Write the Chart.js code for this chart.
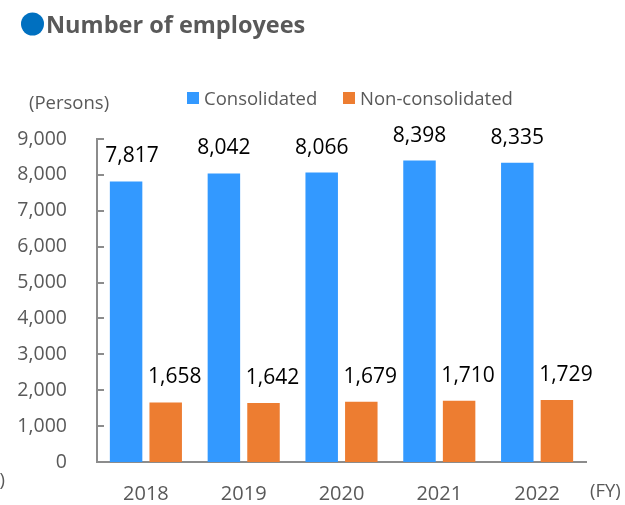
<!DOCTYPE html>
<html>
<head>
<meta charset="utf-8">
<script src="https://cdn.jsdelivr.net/npm/chart.js@4.4.1/dist/chart.umd.min.js"></script>
<style>
  html, body { margin: 0; padding: 0; background: #ffffff; }
  #wrap { position: relative; width: 625px; height: 505px; }
  canvas { display: block; }
</style>
</head>
<body>
<div id="wrap"><canvas id="c" width="625" height="505"></canvas></div>
<script>
// ---- data ----
const years = ['2018', '2019', '2020', '2021', '2022'];
const consolidated = [7817, 8042, 8066, 8398, 8335];
const nonConsolidated = [1658, 1642, 1679, 1710, 1729];
const seriesNames = ['Consolidated', 'Non-consolidated'];
const yTicks = [0, 1000, 2000, 3000, 4000, 5000, 6000, 7000, 8000, 9000];
const chartTitle = 'Number of employees';
const unitLabel = '(Persons)';
const xUnitLabel = '(FY)';

// ---- styles ----
const BLUE = '#3399FF';
const ORANGE = '#ED7D31';
const GRAY_TEXT = '#595959';
const AXIS = '#8C8C8C';
const FONT = '"Open Sans", "Noto Sans", sans-serif';

const fmt = v => v.toLocaleString('en-US');

const decorPlugin = {
  id: 'decor',
  afterDraw(chart) {
    const ctx = chart.ctx;
    const area = chart.chartArea;
    const ys = chart.scales.y;
    ctx.save();
    // inside tick marks on y axis
    ctx.strokeStyle = AXIS;
    ctx.lineWidth = 2;
    yTicks.forEach(v => {
      const py = Math.round(ys.getPixelForValue(v));
      ctx.beginPath();
      ctx.moveTo(area.left, py);
      ctx.lineTo(area.left + 7, py);
      ctx.stroke();
    });
    // data labels
    ctx.fillStyle = '#000000';
    ctx.font = '21px ' + FONT;
    ctx.textAlign = 'center';
    ctx.textBaseline = 'middle';
    chart.data.datasets.forEach((ds, di) => {
      const meta = chart.getDatasetMeta(di);
      meta.data.forEach((bar, i) => {
        let dx = di === 1 ? 9 : (i === 0 ? 6 : 0);
        ctx.fillText(fmt(ds.data[i]), bar.x + dx, bar.y - 25);
      });
    });
    // title
    ctx.fillStyle = '#0070C0';
    ctx.beginPath();
    ctx.arc(32.5, 24, 11.5, 0, Math.PI * 2);
    ctx.fill();
    ctx.fillStyle = GRAY_TEXT;
    ctx.font = 'bold 23.5px ' + FONT;
    ctx.textAlign = 'left';
    ctx.textBaseline = 'alphabetic';
    ctx.fillText(chartTitle, 46, 33);
    // unit labels
    ctx.font = '18.5px ' + FONT;
    ctx.fillText(unitLabel, 29, 109);
    ctx.fillText(xUnitLabel, 590, 497);
    ctx.textAlign = 'right';
    ctx.fillText(')', 5, 486);
    // legend
    ctx.textAlign = 'left';
    const legendX = [187, 343];
    const colors = [BLUE, ORANGE];
    seriesNames.forEach((n, k) => {
      ctx.fillStyle = colors[k];
      ctx.fillRect(legendX[k], 92, 12, 12);
      ctx.fillStyle = GRAY_TEXT;
      ctx.fillText(n, legendX[k] + 17, 105);
    });
    ctx.restore();
  }
};

new Chart(document.getElementById('c'), {
  type: 'bar',
  data: {
    labels: years,
    datasets: [
      { label: seriesNames[0], data: consolidated, backgroundColor: BLUE,
        categoryPercentage: 0.81, barPercentage: 0.82 },
      { label: seriesNames[1], data: nonConsolidated, backgroundColor: ORANGE,
        categoryPercentage: 0.81, barPercentage: 0.82 }
    ]
  },
  options: {
    responsive: false,
    animation: false,
    devicePixelRatio: 1,
    layout: { padding: { left: 0, top: 139, right: 39, bottom: 0 } },
    plugins: { legend: { display: false }, tooltip: { enabled: false }, title: { display: false } },
    scales: {
      x: {
        grid: { display: false, drawTicks: false },
        border: { display: true, color: AXIS, width: 2 },
        ticks: { color: GRAY_TEXT, font: { size: 20, family: FONT }, padding: 20 },
        afterFit: s => { s.height = 43; }
      },
      y: {
        min: 0, max: 9000,
        afterBuildTicks: s => { s.ticks = yTicks.map(v => ({ value: v })); },
        grid: { display: false, drawTicks: false },
        border: { display: true, color: AXIS, width: 2 },
        ticks: { color: GRAY_TEXT, font: { size: 19.5, family: FONT }, padding: 30,
                 callback: v => fmt(v) },
        afterFit: s => { s.width = 97; }
      }
    }
  },
  plugins: [decorPlugin]
});
</script>
</body>
</html>
